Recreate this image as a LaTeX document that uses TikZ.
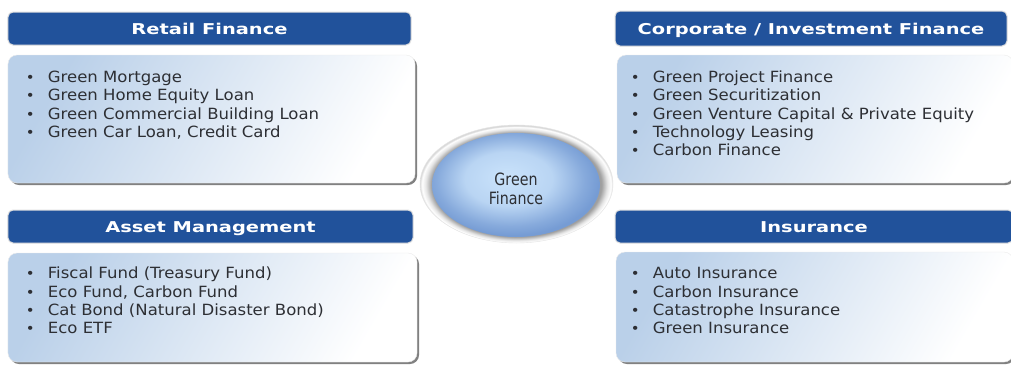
\documentclass[tikz,border=0pt]{standalone}
\usepackage{fontspec}
\setmainfont{DejaVu Sans}
\newfontfamily\headfont[FakeStretch=1.3]{DejaVu Sans}
\newfontfamily\listfont[FakeStretch=1.07]{DejaVu Sans}
\newfontfamily\ballfont[FakeStretch=0.84]{DejaVu Sans}
\usetikzlibrary{positioning,shapes.geometric,shadows}

\definecolor{headblue}{RGB}{33,82,155}
\definecolor{bodyblue}{RGB}{186,208,233}
\definecolor{inkgray}{RGB}{45,47,52}
\definecolor{ballcore}{RGB}{202,227,251}
\definecolor{ballrim}{RGB}{118,156,212}

% radial shadings: the path box spans -25bp..25bp
\pgfdeclareradialshading{ballshade}{\pgfpoint{-3bp}{4bp}}{color(0bp)=(ballcore);color(13bp)=(ballcore!80!ballrim);color(22bp)=(ballrim!80!ballcore);color(26bp)=(ballrim);color(50bp)=(ballrim)}
\pgfdeclareradialshading{haloshade}{\pgfpoint{0bp}{-0.6bp}}{color(0bp)=(gray!75);color(22bp)=(gray!75);color(23.5bp)=(gray!20);color(24.5bp)=(white);color(25bp)=(gray!30);color(50bp)=(gray!30)}

\newcommand\finitem[1]{\strut\makebox[22bp][l]{\raisebox{0bp}{\fontsize{14}{14}\selectfont\textbullet}}#1}

\begin{document}
\begin{tikzpicture}[x=1bp,y=-1bp,
  headbox/.style={rounded corners=5bp,fill=headblue,draw=gray!25,line width=1bp,text=white,font=\headfont\bfseries\fontsize{15}{18}\selectfont,text height=11bp,text depth=0bp,inner sep=0pt},
  listbox/.style={rounded corners=9bp,draw=white!85!gray,top color=bodyblue,bottom color=white,shading angle=60,drop shadow={shadow xshift=2bp,shadow yshift=-2bp,opacity=0.7,fill=black!70}},
  listtext/.style={anchor=north west,inner sep=0pt,align=left,text=inkgray,font=\listfont\fontsize{15.5}{18.3}\selectfont}]
\fill[white] (0,0) rectangle (1011,365);
\useasboundingbox (0,0) rectangle (1011,365);

% list bodies
\node[listbox,minimum width=407bp,minimum height=128bp] (rf_body) at (211.5,119) {};
\node[listbox,minimum width=396bp,minimum height=128bp] (cf_body) at (815,119) {};
\node[listbox,minimum width=409bp,minimum height=109bp] (am_body) at (212.5,307.5) {};
\node[listbox,minimum width=397bp,minimum height=110bp] (ins_body) at (814.5,307) {};

% headers
\node[headbox,minimum width=403bp,minimum height=33bp] (rf_head) at (209.5,28.5) {Retail Finance};
\node[headbox,minimum width=392bp,minimum height=35bp] (cf_head) at (811,28.5) {Corporate / Investment Finance};
\node[headbox,minimum width=405bp,minimum height=33bp] (am_head) at (210.5,226.5) {Asset Management};
\node[headbox,minimum width=398bp,minimum height=33bp] (ins_head) at (814,226.5) {Insurance};

% item lists
\node[listtext] (rf_list) at (25.7,69.8) {\finitem{Green Mortgage}\\\finitem{Green Home Equity Loan}\\\finitem{Green Commercial Building Loan}\\\finitem{Green Car Loan, Credit Card}};
\node[listtext] (cf_list) at (630.7,69.8) {\finitem{Green Project Finance}\\\finitem{Green Securitization}\\\finitem{Green Venture Capital \& Private Equity}\\\finitem{Technology Leasing}\\\finitem{Carbon Finance}};
\node[listtext] (am_list) at (25.7,265.8) {\finitem{Fiscal Fund (Treasury Fund)}\\\finitem{Eco Fund, Carbon Fund}\\\finitem{Cat Bond (Natural Disaster Bond)}\\\finitem{Eco ETF}};
\node[listtext] (ins_list) at (630.7,265.8) {\finitem{Auto Insurance}\\\finitem{Carbon Insurance}\\\finitem{Catastrophe Insurance}\\\finitem{Green Insurance}};

% centre ball
\node[ellipse,shade,shading=haloshade,draw=gray!20,minimum width=193bp,minimum height=118bp] (halo) at (516.5,184) {};
\node[ellipse,shade,shading=ballshade,minimum width=168bp,minimum height=104bp] (core) at (516,185) {};
\node[align=center,text=inkgray,font=\ballfont\fontsize{17}{19.5}\selectfont] (core_text) at ([yshift=-4bp]core.center) {Green\\Finance};
\end{tikzpicture}
\end{document}
